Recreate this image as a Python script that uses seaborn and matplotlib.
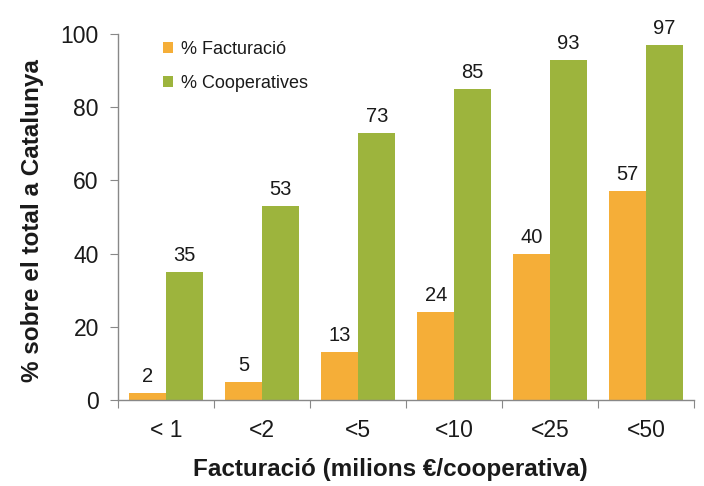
import pandas as pd
import numpy as np
import matplotlib
matplotlib.use("Agg")
import matplotlib.pyplot as plt
import seaborn as sns

# Data
categories = ['< 1', '<2', '<5', '<10', '<25', '<50']
facturacio = [2, 5, 13, 24, 40, 57]
cooperatives = [35, 53, 73, 85, 93, 97]
series_names = ['% Facturació', '% Cooperatives']
colors = ['#F5AE38', '#9DB43D']

df = pd.DataFrame({
    'cat': categories * 2,
    'serie': [series_names[0]] * len(categories) + [series_names[1]] * len(categories),
    'value': facturacio + cooperatives,
})

sns.set_style('white')
plt.rcParams['font.family'] = ['Liberation Sans', 'DejaVu Sans']

fig = plt.figure(figsize=(7.04, 4.86), dpi=100)
ax = fig.add_axes([0.168, 0.177, 0.818, 0.753])

sns.barplot(data=df, x='cat', y='value', hue='serie', palette=colors,
            width=0.77, saturation=1, ax=ax, errorbar=None, linewidth=0)

for cont in ax.containers:
    ax.bar_label(cont, fmt='%d', padding=5, fontsize=14.5, color='#1a1a1a')

ax.set_ylim(0, 100)
ax.set_xlim(-0.5, len(categories) - 0.5)
ax.set_yticks(np.arange(0, 101, 20))
ax.tick_params(axis='y', labelsize=16.5, length=6, width=0.8, color='#888888',
               direction='out', left=True, pad=8, labelcolor='#1a1a1a')

# category labels centered, tick marks at boundaries
ax.set_xticks(np.arange(-0.5, len(categories), 1.0))
ax.set_xticklabels([])
ax.set_xticks(np.arange(len(categories)), minor=True)
ax.set_xticklabels(categories, minor=True)
ax.tick_params(axis='x', which='major', length=6, width=0.8, color='#888888',
               direction='out', bottom=True)
ax.tick_params(axis='x', which='minor', length=0, labelsize=16.5, pad=14,
               labelcolor='#1a1a1a')

for s in ['top', 'right']:
    ax.spines[s].set_visible(False)
for s in ['left', 'bottom']:
    ax.spines[s].set_color('#888888')
    ax.spines[s].set_linewidth(1)

ax.set_xlabel('Facturació (milions €/cooperativa)', fontsize=17.5,
              fontweight='bold', labelpad=11, color='#1a1a1a')
ax.set_ylabel('% sobre el total a Catalunya', fontsize=17.5,
              fontweight='bold', labelpad=12, color='#1a1a1a')
ax.xaxis.label.set_x(0.472)
ax.yaxis.label.set_y(0.49)

leg = ax.legend(loc='upper left', bbox_to_anchor=(0.05, 1.025), frameon=False,
                fontsize=13, handlelength=0.55, handleheight=0.55,
                labelspacing=0.95, handletextpad=0.45)
for t in leg.get_texts():
    t.set_color('#1a1a1a')

fig.savefig('out.png', dpi=100)
